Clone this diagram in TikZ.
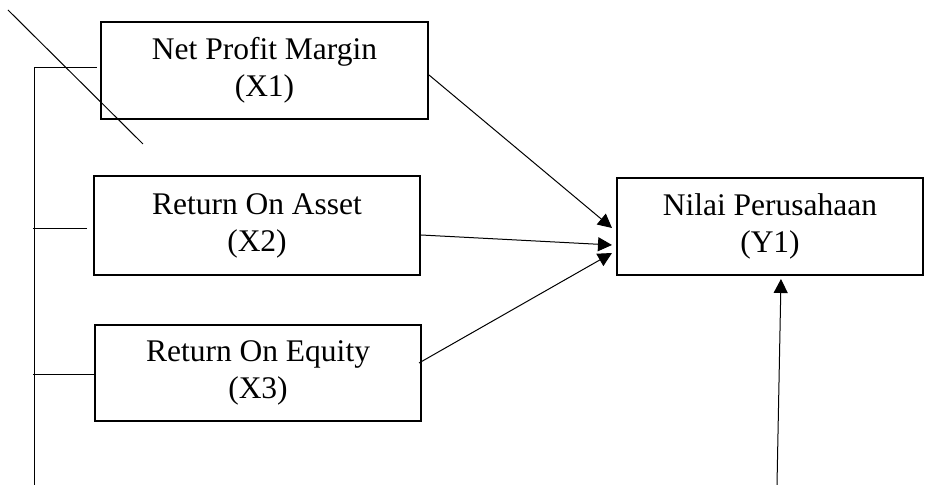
\documentclass[tikz,border=0pt]{standalone}
\usepackage{fontspec}
\setmainfont{Liberation Serif}
\usetikzlibrary{arrows.meta}
\definecolor{ink}{HTML}{000000}

\begin{document}
\begin{tikzpicture}[
    x=0.5pt, y=-0.5pt,
    font=\fontsize{15.75}{18.5}\selectfont,
    varbox/.style={draw=ink, line width=1pt, align=center, inner sep=0pt,
        minimum height=48.5pt},
    link/.style={draw=ink, line width=0.5pt},
    effect/.style={link, -{Triangle[length=7pt, width=7pt]}}
]
\useasboundingbox (0,0) rectangle (938,485);

% Independent variables and the dependent one.
\node[varbox, minimum width=163.5pt] (npm) at (264.5,70.5) {Net Profit Margin\\(X1)};
\node[varbox, minimum width=163pt, minimum height=49.5pt] (roa) at (257,225.5) {Return On Asset\\(X2)};
\node[varbox, minimum width=163pt, minimum height=48pt] (roe) at (258,373) {Return On Equity\\(X3)};
\node[varbox, minimum width=153pt] (nilai) at (770,226.5) {Nilai Perusahaan\\(Y1)};

% Paths into Y1.
\draw[effect] ([yshift=-2.25pt]npm.east) -- ([xshift=-2pt, yshift=-0.75pt]nilai.west);
\draw[effect] ([yshift=-4.75pt]roa.east) -- ([xshift=-2pt, yshift=-9.25pt]nilai.west);
\draw[effect] ([xshift=-1.5pt, yshift=5pt]roe.east) -- ([xshift=-2pt, yshift=-13.25pt]nilai.west);
\coordinate (below) at (777,485);
\draw[effect] (below) -- ([xshift=5.5pt, yshift=-1.5pt]nilai.south);

% Bracket on the left side.
\coordinate (foot) at (34,485);
\draw[link] (foot) |- ([xshift=-1.5pt, yshift=1.25pt]npm.west);
\draw[link] ([xshift=-3pt, yshift=-1.75pt]roa.west) -- ++(-54,0);
\draw[link] ([yshift=-1pt]roe.west) -- ++(-61,0);

% Stroke across the first box.
\coordinate (cutA) at (8,10);
\coordinate (cutB) at (143,144);
\draw[link] (cutA) -- (cutB);
\end{tikzpicture}
\end{document}
